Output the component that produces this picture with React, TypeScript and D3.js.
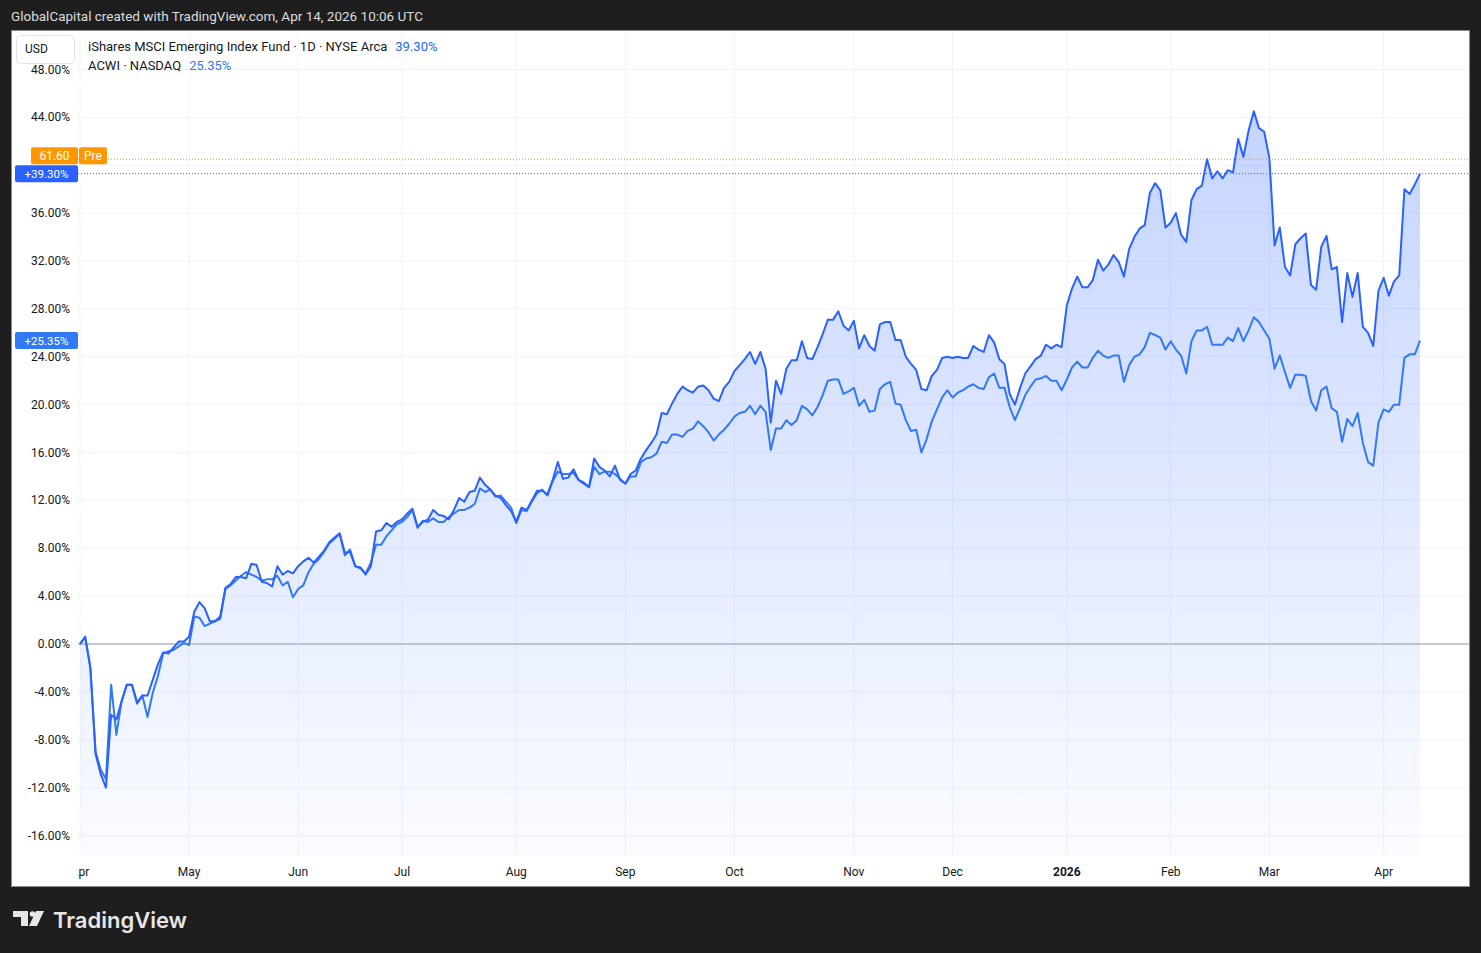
import React from "react";
import * as d3 from "d3";

// daily % change since Apr 1 2025, one value per trading day
const eemPct = [
  0, 0.6, -2.0, -9.2, -10.9, -12.0, -5.9, -6.3, -4.8, -3.4,
  -3.4, -4.9, -4.3, -4.3, -3.0, -1.7, -0.7, -0.8, -0.3, 0.2,
  0.2, 0.6, 2.7, 3.5, 3.0, 1.9, 1.9, 2.3, 4.7, 5.0,
  5.6, 5.6, 5.5, 6.7, 6.6, 5.2, 5.1, 4.8, 6.5, 5.8,
  6.1, 5.9, 6.5, 6.9, 7.2, 6.8, 7.3, 7.8, 8.5, 8.9,
  9.25, 7.6, 7.7, 6.5, 6.4, 5.8, 6.5, 9.4, 9.5, 10.1,
  9.8, 10.2, 10.4, 10.9, 11.3, 9.8, 10.2, 10.4, 11.2, 10.8,
  10.7, 10.4, 11.2, 12.2, 11.9, 12.7, 12.8, 13.9, 13.3, 12.9,
  12.4, 12.2, 11.6, 11.1, 10.2, 11.4, 11.2, 12.0, 12.8, 12.8,
  12.5, 13.7, 15.2, 13.8, 13.9, 14.6, 13.7, 13.4, 13.1, 15.5,
  14.8, 14.5, 14.0, 14.9, 13.7, 13.4, 14.2, 14.5, 15.5, 16.2,
  16.8, 17.5, 19.3, 19.2, 20.1, 20.9, 21.5, 21.2, 21.0, 21.5,
  21.6, 21.2, 20.5, 20.3, 21.4, 21.9, 22.8, 23.3, 23.8, 24.4,
  23.4, 24.4, 23.0, 18.5, 22.0, 20.9, 23.0, 23.7, 23.7, 25.3,
  23.9, 23.8, 24.8, 25.9, 27.1, 27.1, 27.8, 26.6, 26.2, 27.0,
  24.7, 25.8, 24.9, 24.5, 26.7, 26.9, 26.9, 25.4, 25.4, 24.0,
  23.4, 22.9, 21.3, 21.2, 22.4, 22.9, 23.9, 24.0, 23.9, 24.0,
  23.9, 23.9, 24.9, 24.6, 24.4, 25.8, 25.2, 23.8, 23.4, 20.9,
  20.0, 21.4, 22.6, 23.2, 23.8, 24.1, 25.0, 24.7, 25.0, 24.8,
  28.3, 29.7, 30.7, 29.8, 29.8, 30.4, 32.1, 31.2, 31.7, 32.5,
  31.9, 30.7, 33.0, 34.0, 34.7, 35.0, 37.7, 38.5, 37.9, 34.8,
  35.2, 36.0, 34.2, 33.6, 37.1, 38.0, 38.3, 40.5, 38.9, 39.5,
  38.9, 39.6, 39.4, 42.2, 40.7, 42.9, 44.5, 43.1, 42.8, 40.6,
  33.3, 34.8, 31.5, 30.8, 33.4, 33.9, 34.3, 30.0, 29.6, 33.2,
  34.1, 31.3, 31.5, 26.9, 31.0, 29.0, 31.0, 26.5, 26.0, 24.9,
  29.5, 30.6, 29.1, 30.3, 30.8, 38.0, 37.6, 38.4, 39.3,
];

const acwiPct = [
  0, 0.6, -2.0, -9.0, -10.5, -11.3, -3.4, -7.6, -4.8, -3.4,
  -3.4, -5.0, -4.3, -6.1, -4.1, -2.7, -0.8, -0.6, -0.5, -0.2,
  0.1, -0.1, 2.3, 2.2, 1.5, 1.7, 1.9, 2.1, 4.6, 4.9,
  5.3, 5.7, 6.0, 5.8, 5.6, 5.3, 5.4, 5.4, 5.7, 4.9,
  5.2, 3.9, 4.6, 4.9, 6.0, 6.7, 7.1, 7.7, 8.4, 8.8,
  9.2, 7.4, 7.9, 6.5, 6.3, 5.9, 6.8, 8.3, 8.3, 9.0,
  9.5, 10.0, 10.2, 10.6, 11.2, 9.7, 10.3, 10.2, 10.5, 10.2,
  10.2, 10.6, 10.9, 11.2, 11.2, 11.4, 11.7, 13.0, 12.7, 12.9,
  12.3, 12.4, 11.9, 11.4, 10.1, 11.2, 11.1, 11.9, 12.6, 12.9,
  12.4, 13.6, 14.4, 14.2, 14.2, 14.3, 13.7, 13.5, 13.1, 14.8,
  14.2, 14.4, 14.4, 14.2, 13.8, 13.4, 14.0, 14.0, 15.2, 15.5,
  15.6, 15.9, 16.9, 16.8, 17.5, 17.5, 17.3, 17.8, 18.0, 18.6,
  18.2, 17.7, 17.0, 17.5, 17.9, 18.4, 19.0, 19.3, 19.4, 19.9,
  19.2, 19.9, 19.4, 16.2, 18.0, 18.0, 18.7, 18.3, 18.7, 19.9,
  19.6, 19.1, 19.8, 20.8, 22.0, 22.1, 22.1, 20.9, 21.1, 21.4,
  19.9, 20.4, 19.4, 19.5, 21.3, 21.7, 21.9, 20.1, 20.0, 18.7,
  17.8, 17.9, 16.0, 17.1, 18.6, 19.6, 20.6, 21.2, 20.6, 21.0,
  21.2, 21.5, 21.7, 21.4, 21.3, 22.3, 22.6, 21.4, 21.4, 19.8,
  18.7, 19.7, 20.8, 21.5, 22.1, 22.2, 22.4, 22.0, 22.0, 21.2,
  22.1, 23.1, 23.6, 23.1, 23.1, 23.9, 24.5, 24.1, 23.9, 24.1,
  24.1, 21.9, 23.3, 24.0, 24.2, 24.8, 26.0, 25.8, 25.6, 24.6,
  25.3, 24.6, 24.1, 22.6, 25.3, 26.2, 26.2, 26.5, 25.0, 25.0,
  25.0, 25.6, 25.3, 26.4, 25.3, 26.2, 27.3, 26.9, 26.2, 25.5,
  23.0, 24.1, 22.7, 21.4, 22.5, 22.5, 22.4, 20.3, 19.5, 21.2,
  21.5, 19.7, 19.4, 16.9, 18.8, 18.2, 19.3, 16.8, 15.2, 14.9,
  18.5, 19.6, 19.4, 20.0, 20.0, 23.9, 24.2, 24.2, 25.35,
];

// first trading day of each month (index into the series)
const monthLabels = ["Apr", "May", "Jun", "Jul", "Aug", "Sep", "Oct", "Nov", "Dec", "2026", "Feb", "Mar", "Apr"];
const monthStartDay = [0, 21, 42, 62, 84, 105, 126, 149, 168, 190, 210, 229, 251];

const yTicks = [-16, -12, -8, -4, 0, 4, 8, 12, 16, 20, 24, 28, 32, 36, 40, 44, 48];

const eemLast = "39.30%";
const acwiLast = "25.35%";
const prePrice = "61.60";
const prePct = 40.5;

const W = 1481;
const H = 953;
const pane = { left: 78, right: 1469, top: 31, bottom: 856 };
const font = "Roboto, 'Noto Sans', sans-serif";
const blue = "#2962ff";
const blue2 = "#3179f5";
const orange = "#ff9800";

const x = d3.scaleLinear().domain([0, eemPct.length - 1]).range([80, 1420]);
const y = d3.scaleLinear().domain([0, 48]).range([644, 69.5]);

const line = d3
  .line<number>()
  .x((_, i) => x(i))
  .y((d) => y(d));

const area = d3
  .area<number>()
  .x((_, i) => x(i))
  .y0(pane.bottom)
  .y1((d) => y(d));

const fmt = (v: number) => `${v.toFixed(2)}%`;

const App: React.FC = () => {
  const eemY = y(eemPct[eemPct.length - 1]);
  const acwiY = y(acwiPct[acwiPct.length - 1]);
  const preY = y(prePct);
  const bh = 17;
  // orange badge pushed up so it does not overlap the blue one
  const preBadgeY = Math.min(preY, eemY - bh - 1);
  const shownTicks = yTicks.filter(
    (t) => t === 0 || ![eemY, preBadgeY].some((c) => Math.abs(y(t) - c) < 11)
  );

  return (
    <svg
      width={W}
      height={H}
      style={{ position: "fixed", left: 0, top: 0, display: "block" }}
      fontFamily={font}
    >
      <defs>
        <linearGradient id="fillGrad" gradientUnits="userSpaceOnUse" x1={0} x2={0} y1={pane.top} y2={pane.bottom}>
          <stop offset="0" stopColor={blue} stopOpacity={0.3} />
          <stop offset="1" stopColor={blue} stopOpacity={0.02} />
        </linearGradient>
        <clipPath id="paneClip">
          <rect x={pane.left} y={pane.top} width={pane.right - pane.left} height={pane.bottom - pane.top} />
        </clipPath>
        <clipPath id="timeClip">
          <rect x={pane.left} y={pane.bottom} width={pane.right - pane.left} height={30} />
        </clipPath>
      </defs>

      <rect width={W} height={H} fill="#1e1e1e" />
      <text x={11} y={21} fontSize={13.5} fill="#dcdcdc">
        GlobalCapital created with TradingView.com, Apr 14, 2026 10:06 UTC
      </text>

      <rect x={11.5} y={30.5} width={1458} height={856} fill="#ffffff" stroke="#8a8a8a" />

      {/* grid, area and lines */}
      <g clipPath="url(#paneClip)">
        {yTicks.map((t) => (
          <line key={t} x1={pane.left} x2={pane.right} y1={y(t)} y2={y(t)} stroke="#f0f3fa" />
        ))}
        {monthStartDay.map((d, i) => (
          <line key={i} x1={x(d)} x2={x(d)} y1={pane.top} y2={pane.bottom} stroke="#f0f3fa" />
        ))}
        <path d={area(eemPct) ?? ""} fill="url(#fillGrad)" />
        <line x1={pane.left} x2={pane.right} y1={y(0)} y2={y(0)} stroke="#9598a1" />
        <line x1={pane.left} x2={pane.right} y1={preY} y2={preY} stroke={orange} strokeDasharray="1 2" />
        <line x1={pane.left} x2={pane.right} y1={eemY} y2={eemY} stroke={blue} strokeDasharray="1 2" />
        <path d={line(acwiPct) ?? ""} fill="none" stroke={blue2} strokeWidth={2} strokeLinejoin="round" />
        <path d={line(eemPct) ?? ""} fill="none" stroke={blue} strokeWidth={2} strokeLinejoin="round" />
      </g>

      {/* left price scale */}
      {shownTicks.map((t) => (
        <text key={t} x={70} y={y(t) + 4} fontSize={12} textAnchor="end" fill="#131722">
          {fmt(t)}
        </text>
      ))}

      {/* time scale */}
      <g clipPath="url(#timeClip)">
        {monthStartDay.map((d, i) => (
          <text
            key={i}
            x={x(d)}
            y={876}
            fontSize={12}
            textAnchor="middle"
            fill="#131722"
            fontWeight={monthLabels[i] === "2026" ? 700 : 400}
          >
            {monthLabels[i]}
          </text>
        ))}
      </g>

      {/* last value badges */}
      <rect x={31} y={preBadgeY - bh / 2} width={47} height={bh} rx={2} fill={orange} />
      <text x={54.5} y={preBadgeY + 4} fontSize={12} textAnchor="middle" fill="#ffffff">
        {prePrice}
      </text>
      <rect x={79} y={preBadgeY - bh / 2} width={28} height={bh} rx={2} fill={orange} />
      <text x={93} y={preBadgeY + 4} fontSize={12} textAnchor="middle" fill="#ffffff">
        Pre
      </text>
      <rect x={15} y={eemY - bh / 2} width={63} height={bh} rx={2} fill={blue} />
      <text x={46.5} y={eemY + 4} fontSize={11.5} textAnchor="middle" fill="#ffffff">
        {`+${eemLast}`}
      </text>
      <rect x={15} y={acwiY - bh / 2} width={63} height={bh} rx={2} fill={blue2} />
      <text x={46.5} y={acwiY + 4} fontSize={11.5} textAnchor="middle" fill="#ffffff">
        {`+${acwiLast}`}
      </text>

      {/* currency box */}
      <rect x={16.5} y={35.5} width={58} height={28} rx={4} fill="#ffffff" stroke="#e0e3eb" />
      <text x={25} y={53} fontSize={12} fill="#131722">
        USD
      </text>

      {/* legend */}
      <text x={88} y={51} fontSize={13} fill="#131722">
        iShares MSCI Emerging Index Fund · 1D · NYSE Arca
        <tspan dx={8} fill={blue}>{eemLast}</tspan>
      </text>
      <text x={88} y={70} fontSize={13} fill="#131722">
        ACWI · NASDAQ
        <tspan dx={8} fill={blue2}>{acwiLast}</tspan>
      </text>

      {/* TradingView logo */}
      <g fill="#e6e6e6">
        <rect x={13} y={911} width={15} height={6} />
        <rect x={21} y={911} width={7} height={15} />
        <circle cx={32.5} cy={914} r={2.8} />
        <polygon points="36,911 44,911 37,926 29,926" />
      </g>
      <text x={53} y={928} fontSize={22} fontWeight={600} fill="#e6e6e6" fontFamily="Inter, Roboto, sans-serif">
        TradingView
      </text>
    </svg>
  );
};

export default App;
